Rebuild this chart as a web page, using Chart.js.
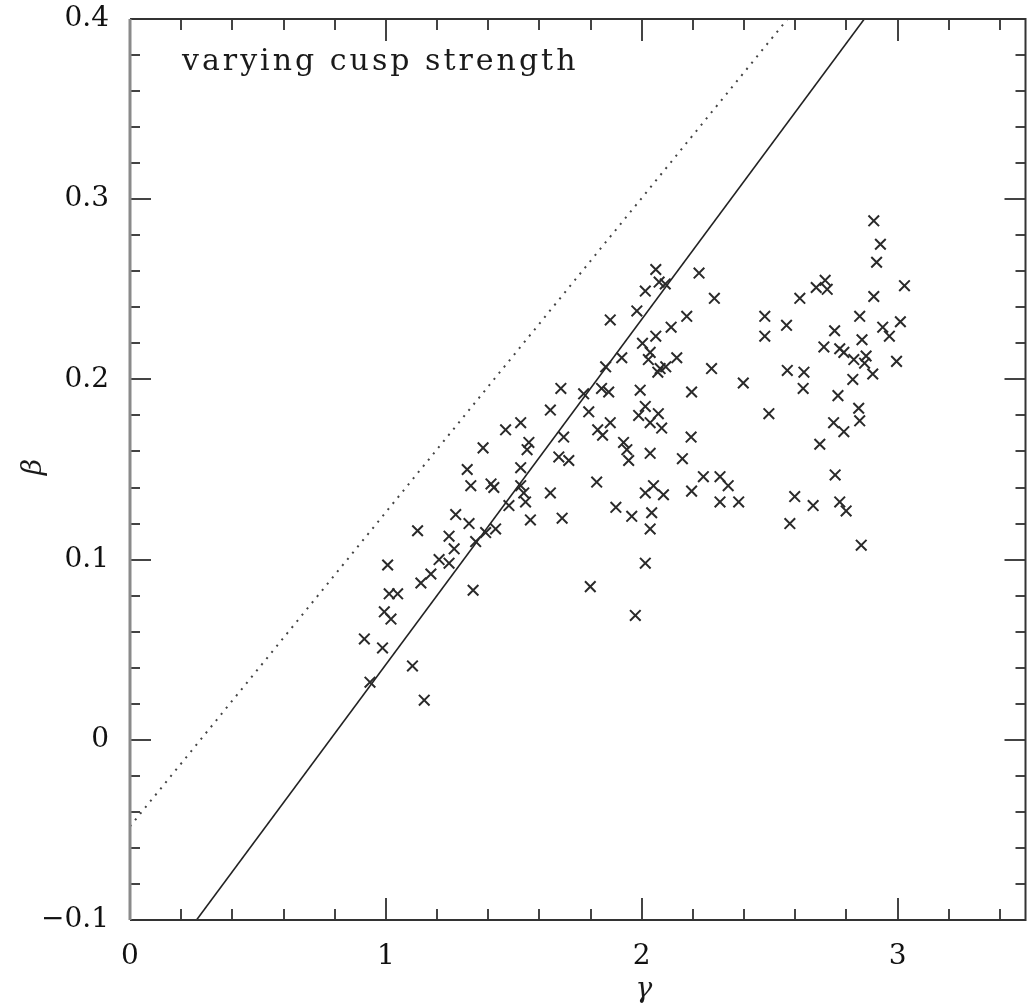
<!DOCTYPE html>
<html><head><meta charset="utf-8">
<script src="https://cdn.jsdelivr.net/npm/chart.js@4/dist/chart.umd.min.js"></script>
<style>html,body{margin:0;padding:0;background:#fff;overflow:hidden}#wrap{width:1035px;height:1005px;position:relative}</style>
</head><body><div id="wrap"><canvas id="c" width="1035" height="1005"></canvas></div>
<script>
// ---- data ----
const gamma = [0.916,0.938,0.987,0.994,1.020,1.013,1.046,1.007,1.104,1.150,1.137,1.176,1.124,1.208,1.247,1.267,1.247,1.273,1.325,1.351,1.390,1.429,1.341,1.318,1.332,1.411,1.422,1.380,1.468,1.527,1.559,1.552,1.527,1.527,1.539,1.546,1.481,1.565,1.643,1.689,1.643,1.684,1.695,1.676,1.715,1.773,1.793,1.828,1.847,1.824,1.799,1.843,1.871,1.877,1.859,1.877,1.922,1.981,2.014,2.055,2.068,2.092,2.224,2.284,2.176,2.115,2.055,2.003,2.033,2.026,2.137,2.072,2.094,2.063,2.273,2.397,1.994,2.195,2.014,2.065,1.988,2.033,2.078,2.193,1.929,1.942,1.949,2.033,2.159,2.046,2.014,2.085,2.195,2.241,2.306,2.338,2.306,2.379,1.899,1.961,2.039,2.033,2.014,1.975,2.481,2.481,2.497,2.907,2.933,2.918,2.717,2.682,2.725,3.027,2.618,2.907,2.566,2.852,2.754,2.942,2.968,3.011,2.861,2.712,2.774,2.790,2.829,2.877,2.871,2.996,2.569,2.634,2.903,2.825,2.631,2.767,2.848,2.852,2.750,2.790,2.696,2.756,2.598,2.670,2.774,2.799,2.579,2.858];
const beta = [0.056,0.032,0.051,0.071,0.067,0.081,0.081,0.097,0.041,0.022,0.087,0.092,0.116,0.100,0.098,0.106,0.113,0.125,0.120,0.110,0.115,0.117,0.083,0.150,0.141,0.142,0.140,0.162,0.172,0.176,0.165,0.161,0.151,0.141,0.137,0.132,0.130,0.122,0.137,0.123,0.183,0.195,0.168,0.157,0.155,0.192,0.182,0.172,0.169,0.143,0.085,0.195,0.193,0.176,0.207,0.233,0.212,0.238,0.249,0.261,0.254,0.253,0.259,0.245,0.235,0.229,0.224,0.220,0.215,0.211,0.212,0.206,0.207,0.204,0.206,0.198,0.194,0.193,0.185,0.181,0.180,0.176,0.173,0.168,0.165,0.161,0.155,0.159,0.156,0.141,0.137,0.136,0.138,0.146,0.146,0.141,0.132,0.132,0.129,0.124,0.126,0.117,0.098,0.069,0.235,0.224,0.181,0.288,0.275,0.265,0.255,0.251,0.250,0.252,0.245,0.246,0.230,0.235,0.227,0.229,0.224,0.232,0.222,0.218,0.217,0.215,0.211,0.213,0.209,0.210,0.205,0.204,0.203,0.200,0.195,0.191,0.184,0.177,0.176,0.171,0.164,0.147,0.135,0.130,0.132,0.127,0.120,0.108];
const solidLineGamma = [0.26, 2.87];
const solidLineBeta = [-0.1, 0.4];
const dottedLineGamma = [0.0, 2.57];
const dottedLineBeta = [-0.048, 0.4];
const xTicks = [0, 1, 2, 3];
const yTicks = [-0.1, 0, 0.1, 0.2, 0.3, 0.4];
const annotationText = 'varying cusp strength';
const xTitle = 'γ';
const yTitle = 'β';

const pts = gamma.map((g, i) => ({x: g, y: beta[i]}));
const solidPts = solidLineGamma.map((g, i) => ({x: g, y: solidLineBeta[i]}));
const dottedPts = dottedLineGamma.map((g, i) => ({x: g, y: dottedLineBeta[i]}));

const fmtY = v => { const r = Math.round(v * 10) / 10; return r === 0 ? '0' : (r < 0 ? '\u2212' + Math.abs(r) : String(r)); };

const framePlugin = {
  id: 'frame',
  afterDatasetsDraw(chart) {
    const ctx = chart.ctx, a = chart.chartArea;
    const xs = chart.scales.x, ys = chart.scales.y;
    ctx.save();
    ctx.lineCap = 'butt';
    const majL = 22, minL = 11;
    ctx.strokeStyle = '#444'; ctx.lineWidth = 2;
    for (let k = 0; k <= 35; k += 2) {
      const v = k / 10;
      const px = Math.round(xs.getPixelForValue(v));
      const L = (k % 10 === 0) ? majL : minL;
      ctx.beginPath();
      ctx.moveTo(px, a.bottom); ctx.lineTo(px, a.bottom - L);
      ctx.moveTo(px, a.top); ctx.lineTo(px, a.top + L);
      ctx.stroke();
    }
    for (let k = -50; k <= 200; k += 10) {
      const v = k / 500;
      const py = Math.round(ys.getPixelForValue(v));
      const L = (k % 50 === 0) ? majL - 1 : minL - 1;
      ctx.beginPath();
      ctx.moveTo(a.left, py); ctx.lineTo(a.left + L, py);
      ctx.moveTo(a.right, py); ctx.lineTo(a.right - L, py);
      ctx.stroke();
    }
    ctx.strokeStyle = '#333'; ctx.lineWidth = 2;
    ctx.beginPath();
    ctx.moveTo(a.left, a.top); ctx.lineTo(a.right, a.top); ctx.lineTo(a.right, a.bottom); ctx.lineTo(a.left, a.bottom);
    ctx.stroke();
    ctx.strokeStyle = '#8a8a8a'; ctx.lineWidth = 3;
    ctx.beginPath(); ctx.moveTo(a.left, a.top); ctx.lineTo(a.left, a.bottom); ctx.stroke();

    // annotation
    ctx.fillStyle = '#1a1a1a';
    ctx.font = '30px "DejaVu Serif"';
    ctx.textAlign = 'left'; ctx.textBaseline = 'alphabetic';
    if ('letterSpacing' in ctx) ctx.letterSpacing = '3px';
    ctx.fillText(annotationText, a.left + 52, a.top + 51);
    if ('letterSpacing' in ctx) ctx.letterSpacing = '0px';

    // axis titles
    ctx.font = 'italic 28px "DejaVu Serif"';
    ctx.textAlign = 'center'; ctx.textBaseline = 'middle';
    ctx.fillText(xTitle, (a.left + a.right) / 2 + 66, 990);
    ctx.save();
    ctx.translate(34, 467);
    ctx.rotate(-Math.PI / 2);
    ctx.fillText(yTitle, 0, 0);
    ctx.restore();
    ctx.restore();
  }
};

new Chart(document.getElementById('c'), {
  type: 'scatter',
  data: {
    datasets: [
      {
        data: pts,
        pointStyle: 'crossRot',
        pointRadius: 7.5,
        pointBorderWidth: 2,
        borderColor: '#2a2a2a',
        backgroundColor: 'rgba(0,0,0,0)',
        showLine: false
      },
      {
        type: 'line',
        data: solidPts,
        borderColor: '#222',
        borderWidth: 1.6,
        pointRadius: 0,
        fill: false,
        tension: 0
      },
      {
        type: 'line',
        data: dottedPts,
        borderColor: '#444',
        borderWidth: 2,
        borderDash: [2, 6],
        pointRadius: 0,
        fill: false,
        tension: 0
      }
    ]
  },
  options: {
    responsive: false,
    animation: false,
    layout: { padding: { left: 0, right: 7, top: 19, bottom: 0 } },
    plugins: { legend: { display: false }, tooltip: { enabled: false } },
    scales: {
      x: {
        type: 'linear', min: 0, max: 3.5,
        afterFit(s) { s.height = 85; s.paddingLeft = 0; s.paddingRight = 0; },
        afterBuildTicks(s) { s.ticks = xTicks.map(v => ({ value: v })); },
        grid: { display: false, drawTicks: false },
        border: { display: false },
        ticks: { padding: 20, color: '#111', maxRotation: 0, autoSkip: false, font: { family: 'DejaVu Serif', size: 28 }, callback: v => String(v) }
      },
      y: {
        type: 'linear', min: -0.1, max: 0.4,
        afterFit(s) { s.width = 130; s.paddingTop = 0; s.paddingBottom = 0; },
        afterBuildTicks(s) { s.ticks = yTicks.map(v => ({ value: v })); },
        grid: { display: false, drawTicks: false },
        border: { display: false },
        ticks: { padding: 21, color: '#111', autoSkip: false, font: { family: 'DejaVu Serif', size: 28 }, callback: fmtY }
      }
    }
  },
  plugins: [framePlugin]
});
</script>
</body></html>
